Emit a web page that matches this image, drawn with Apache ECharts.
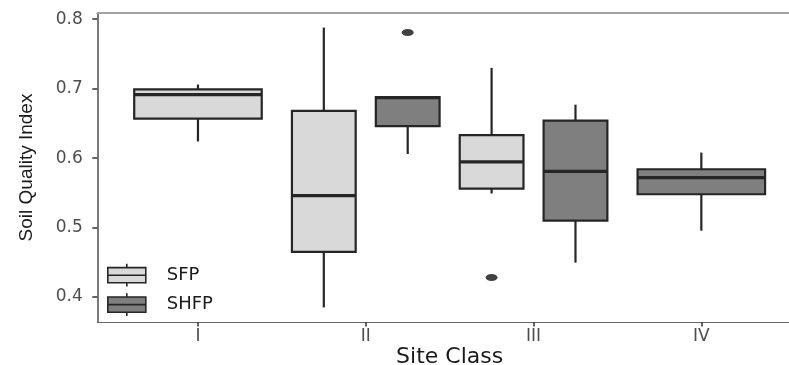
<!DOCTYPE html>
<html>
<head>
<meta charset="utf-8">
<script src="https://cdn.jsdelivr.net/npm/echarts@6/dist/echarts.min.js"></script>
<style>html,body{margin:0;padding:0;background:#fff}#chart{width:789px;height:365px}</style>
</head>
<body>
<div id="chart"></div>
<script>
// ---- data ----
const categories = ['I', 'II', 'III', 'IV'];
const seriesNames = ['SFP', 'SHFP'];
// [lower whisker, Q1, median, Q3, upper whisker] per site class (null = no data)
const sfpStats = [
  [0.624, 0.657, 0.6915, 0.699, 0.706],
  [0.385, 0.465, 0.546, 0.668, 0.788],
  [0.549, 0.556, 0.5945, 0.633, 0.730],
  null
];
const shfpStats = [
  null,
  [0.606, 0.646, 0.687, 0.688, 0.688],
  [0.4495, 0.510, 0.581, 0.654, 0.677],
  [0.4955, 0.548, 0.572, 0.584, 0.608]
];
// outliers: [site class, value]
const sfpOutliers = [['III', 0.428]];
const shfpOutliers = [['II', 0.781]];
const yTicks = [0.4, 0.5, 0.6, 0.7, 0.8];

// ---- layout helpers (dodge like ggplot) ----
const allStats = [sfpStats, shfpStats];
const fills = ['#d9d9d9', '#7f7f7f'];
const edge = '#262626';
function dodge(si, ci) {
  const present = allStats.map(s => s[ci] != null);
  const n = present.filter(Boolean).length;
  if (n <= 1) return { off: 0, w: 0.76 };
  return { off: si === 0 ? -0.25 : 0.25, w: 0.38 };
}
function boxData(si) {
  const out = [];
  allStats[si].forEach((s, ci) => {
    if (!s) return;
    const d = dodge(si, ci);
    out.push([ci + d.off].concat(s).concat([d.w]));
  });
  return out;
}
function outlierData(si, list) {
  return list.map(([cat, v]) => {
    const ci = categories.indexOf(cat);
    return [ci + dodge(si, ci).off, v];
  });
}
function renderBox(params, api) {
  const x = api.value(0), w = api.value(6);
  const lo = api.coord([x, api.value(1)]);
  const q1 = api.coord([x, api.value(2)]);
  const md = api.coord([x, api.value(3)]);
  const q3 = api.coord([x, api.value(4)]);
  const hi = api.coord([x, api.value(5)]);
  const half = api.size([w, 0])[0] / 2;
  const cx = md[0];
  const ls = { stroke: edge, lineWidth: 2.2 };
  return {
    type: 'group',
    children: [
      { type: 'line', shape: { x1: cx, y1: q3[1], x2: cx, y2: hi[1] }, style: ls },
      { type: 'line', shape: { x1: cx, y1: q1[1], x2: cx, y2: lo[1] }, style: ls },
      { type: 'rect', shape: { x: cx - half, y: q3[1], width: half * 2, height: q1[1] - q3[1] },
        style: { fill: fills[params.seriesIndex], stroke: edge, lineWidth: 2.2 } },
      { type: 'line', shape: { x1: cx - half, y1: md[1], x2: cx + half, y2: md[1] },
        style: { stroke: edge, lineWidth: 3.2 } }
    ]
  };
}
const legendIcon = 'path://M20,0 V4 M0,4 H40 V20 H0 Z M0,12 H40 M20,20 V24';

const chart = echarts.init(document.getElementById('chart'), null, { renderer: 'canvas' });
chart.setOption({
  animation: false,
  backgroundColor: '#ffffff',
  grid: { left: 97.3, top: 13, bottom: 43, right: -13, show: false, outerBoundsMode: 'none', containLabel: false },
  legend: {
    orient: 'vertical', left: 107, top: 263, padding: 0, itemGap: 5,
    itemWidth: 38, itemHeight: 24, selectedMode: false,
    textStyle: { fontFamily: 'DejaVu Sans', fontSize: 18, color: '#1a1a1a', padding: [0, 0, 0, 16] },
    data: seriesNames.map((n, i) => ({ name: n, icon: legendIcon,
      itemStyle: { color: fills[i], borderColor: edge, borderWidth: 1.6 } }))
  },
  xAxis: [{
    type: 'value', min: -0.6, max: 3.6,
    name: 'Site Class', nameLocation: 'middle', nameGap: 24, nameMoveOverlap: false,
    nameTextStyle: { fontFamily: 'DejaVu Sans', fontSize: 22, color: '#1a1a1a' },
    axisLine: { show: true, onZero: false, lineStyle: { color: '#6a6a6a', width: 1.2 } },
    axisTick: { show: true, length: 4.5, customValues: categories.map((c, i) => i), lineStyle: { color: '#333', width: 1.5 } },
    axisLabel: { customValues: categories.map((c, i) => i), formatter: v => categories[Math.round(v)],
      fontFamily: 'DejaVu Sans', fontSize: 17, color: '#4d4d4d', margin: 6 },
    splitLine: { show: false }
  }, {
    type: 'value', position: 'top', min: -0.6, max: 3.6,
    axisLine: { show: true, onZero: false, lineStyle: { color: '#a3a3a3', width: 1.8 } },
    axisTick: { show: false }, axisLabel: { show: false }, splitLine: { show: false }
  }],
  yAxis: {
    type: 'value', min: 0.364, max: 0.809,
    name: 'Soil Quality Index', nameLocation: 'middle', nameGap: 61, nameMoveOverlap: false,
    nameTextStyle: { fontFamily: 'Liberation Sans', fontSize: 19, color: '#1a1a1a' },
    axisLine: { show: true, onZero: false, lineStyle: { color: '#4d4d4d', width: 1.5 } },
    axisTick: { show: true, length: 5, customValues: yTicks, lineStyle: { color: '#333', width: 1.5 } },
    axisLabel: { customValues: yTicks, formatter: v => v.toFixed(1),
      fontFamily: 'DejaVu Sans', fontSize: 17, color: '#4d4d4d', margin: 14.5 },
    splitLine: { show: false }
  },
  series: [
    { name: 'SFP', type: 'custom', renderItem: renderBox, data: boxData(0),
      itemStyle: { color: fills[0] }, encode: { x: 0, y: [1, 2, 3, 4, 5] }, z: 2 },
    { name: 'SHFP', type: 'custom', renderItem: renderBox, data: boxData(1),
      itemStyle: { color: fills[1] }, encode: { x: 0, y: [1, 2, 3, 4, 5] }, z: 2 },
    { name: 'SFP outliers', type: 'scatter', data: outlierData(0, sfpOutliers),
      symbol: 'circle', symbolSize: [12, 7], itemStyle: { color: '#111' }, z: 3, silent: true },
    { name: 'SHFP outliers', type: 'scatter', data: outlierData(1, shfpOutliers),
      symbol: 'circle', symbolSize: [12, 7], itemStyle: { color: '#111' }, z: 3, silent: true }
  ]
});
</script>
</body>
</html>
